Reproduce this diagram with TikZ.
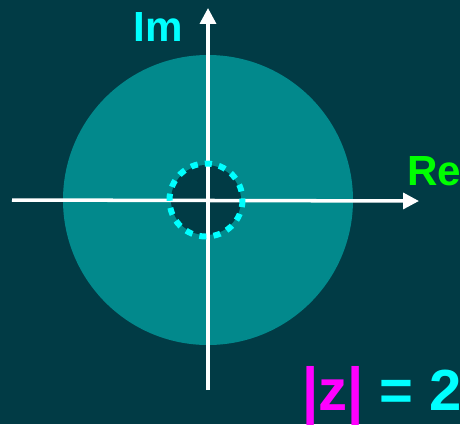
\documentclass[tikz,border=0pt]{standalone}
\usepackage{fontspec}
\setmainfont{Liberation Sans}
\usepackage{xcolor}
\usetikzlibrary{arrows.meta}

\definecolor{bgteal}{RGB}{1,59,69}
\definecolor{ringteal}{RGB}{2,137,140}
\definecolor{lightcyan}{RGB}{0,255,255}
\definecolor{regreen}{RGB}{0,255,0}
\definecolor{absmag}{RGB}{255,0,255}

\tikzset{
  axis/.style={white,line width=2pt,-{Triangle[length=9pt,width=9pt]}},
  axlabel/.style={font=\bfseries\fontsize{24}{24}\selectfont,inner sep=0pt}
}

\begin{document}
\begin{tikzpicture}[x=0.02cm,y=-0.02cm]
    % background and region
    \fill[bgteal] (0,0) rectangle (460,424);
    \useasboundingbox (0,0) rectangle (460,424);
    \fill[ringteal] (208,200) circle (145);
    \fill[bgteal] (206,200) circle (35);

    % axes
    \coordinate (reL) at (12,200);
    \coordinate (reR) at (419,201);
    \coordinate (imB) at (208,390);
    \coordinate (imT) at (208,8);
    \draw[axis] (reL) -- (reR);
    \draw[axis] (imB) -- (imT);

    % unit circle, dashed
    \draw[lightcyan,line width=3.4pt,dash pattern=on 4.05pt off 4.05pt] (206,200) circle (36.5);

    \node[axlabel,text=lightcyan] (im) at (158,27) {Im};
    \node[axlabel,text=regreen] (re) at (434,171) {Re};
    \node[font=\bfseries\fontsize{33}{33}\selectfont,inner sep=0pt,anchor=base west,text=lightcyan]
        (mod) at (302,410) {{\color{absmag}\raisebox{-2pt}{\scalebox{1}[1.12]{|}}z\raisebox{-2pt}{\scalebox{1}[1.12]{|}}} = 2};
\end{tikzpicture}
\end{document}
